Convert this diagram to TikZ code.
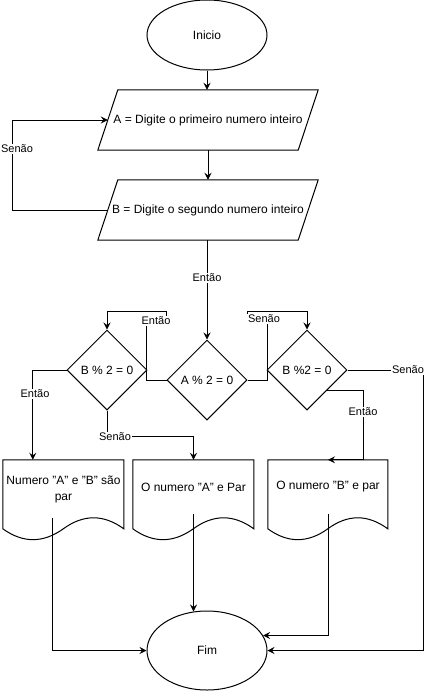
\documentclass[tikz,border=0pt]{standalone}
\usepackage{fontspec}
\setmainfont{Liberation Sans}
\usetikzlibrary{shapes.geometric,arrows.meta,backgrounds,calc}
\newcommand{\qq}{\symbol{34}}
\begin{document}
\begin{tikzpicture}[x=1pt,y=-1pt,
  every node/.style={font=\fontsize{12}{15}\selectfont},
  term/.style={ellipse,draw,line width=1pt,fill=white,minimum width=120pt,inner sep=0pt},
  dec/.style={diamond,draw,line width=1pt,fill=white,minimum width=80pt,minimum height=80pt,inner sep=0pt},
  txt/.style={rectangle,draw=none,inner sep=0pt,align=center},
  shp/.style={draw,line width=1pt,fill=white},
  arr/.style={line width=1pt,-{Stealth[length=7pt,width=7pt,inset=2.5pt]}},
  con/.style={line width=1pt},
  lbl/.style={font=\fontsize{11}{13}\selectfont,fill=white,inner sep=1pt}]
\useasboundingbox (0,0) rectangle (433,691);

% nodes
\node[term,minimum height=70pt] (I) at (207,35) {Inicio};
\node[txt,minimum width=200pt,minimum height=60pt] (A) at (208,120) {A = Digite o primeiro numero inteiro};
\node[txt,minimum width=200pt,minimum height=60pt] (B) at (208,210) {B = Digite o segundo numero inteiro};
\node[dec] (L) at (107,370) {B \% 2 = 0};
\node[dec] (A2) at (207,380) {A \% 2 = 0};
\node[dec] (R) at (307,370) {B \%2 = 0};
\node[txt,minimum width=121pt,minimum height=58pt,font=\fontsize{12}{16}\selectfont] (d1) at (63.5,489) {Numero \qq A\qq{} e \qq B\qq{} são\\par};
\node[txt,minimum width=121pt,minimum height=54pt] (d2) at (193.5,487) {O numero \qq A\qq{} e Par};
\node[txt,minimum width=120pt,minimum height=54pt] (d3) at (328,487) {O numero \qq B\qq{} e par};
\node[term,minimum height=79pt] (Fim) at (207,650.5) {Fim};

\begin{pgfonlayer}{background}
\draw[arr] (I.south) -- (I.south |- A.north);
\draw[arr] (A.south) -- (B.north);
\draw[arr] (B.west) -- ++(-95,0) |- (A.west);
\node[lbl] (ls1) at (17,149) {Senão};
\draw[arr] (A2.north |- B.south) -- node[lbl,pos=0.38] (le1) {Então} (A2.north);
\draw[arr] (A2.west) -- ++(-20,0) -- ++(0,-58) -- ++(20,0) -- ++(0,-11) -| (L.north);
\node[lbl] (le2) at (156,321) {Então};
\draw[arr] (A2.east) -- ++(20,0) -- ++(0,-61) -- ++(-20,0) -- ++(0,-8) -| (R.north);
\node[lbl] (ls2) at (264,319) {Senão};
\draw[arr] (L.west) -| ($(d1.north west)+(30,0)$);
\node[lbl] (le3) at (35,394) {Então};
\draw[arr] (L.south) -- ++(0,26) -| (d2.north);
\node[lbl] (ls3) at (115,437) {Senão};
\draw[arr] (R.east) -- ++(76,0) |- (Fim.east);
\node[lbl] (ls4) at (408,370) {Senão};
\draw[arr] (R.south east) -| ($(d3.north)+(35,0)$) -- (d3.north);
\node[lbl] (le4) at (363,412) {Então};
\draw[arr] ($(d1.south west)+(50,0)$) |- (Fim.west);
\draw[arr] (d2.south) -- (d2.south |- Fim.109);
\draw[arr] (d3.south) |- (Fim.15);
\end{pgfonlayer}

% parallelograms
\draw[line width=1pt] ($(A.south west)+(-10,0)$) -- ($(A.south east)+(-10,0)$) -- ($(A.north east)+(10,0)$) -- ($(A.north west)+(10,0)$) -- cycle;
\draw[line width=1pt] ($(B.south west)+(-10,0)$) -- ($(B.south east)+(-10,0)$) -- ($(B.north east)+(10,0)$) -- ($(B.north west)+(10,0)$) -- cycle;

% documents
\begin{scope}[shift={(d1.north west)}]
\draw[line width=1pt] (0,0) -- (121,0) -- (121,69) .. controls (100.83,54.33) and (80.67,54.33) .. (60.5,69) .. controls (40.33,83.47) and (20.17,83.47) .. (0,69) -- cycle;
\end{scope}
\begin{scope}[shift={(d2.north west)}]
\draw[line width=1pt] (0,0) -- (121,0) -- (121,69) .. controls (100.83,54.33) and (80.67,54.33) .. (60.5,69) .. controls (40.33,83.47) and (20.17,83.47) .. (0,69) -- cycle;
\end{scope}
\begin{scope}[shift={(d3.north west)}]
\draw[line width=1pt] (0,0) -- (120,0) -- (120,69) .. controls (100,54.33) and (80,54.33) .. (60,69) .. controls (40,83.47) and (20,83.47) .. (0,69) -- cycle;
\end{scope}
\end{tikzpicture}
\end{document}
